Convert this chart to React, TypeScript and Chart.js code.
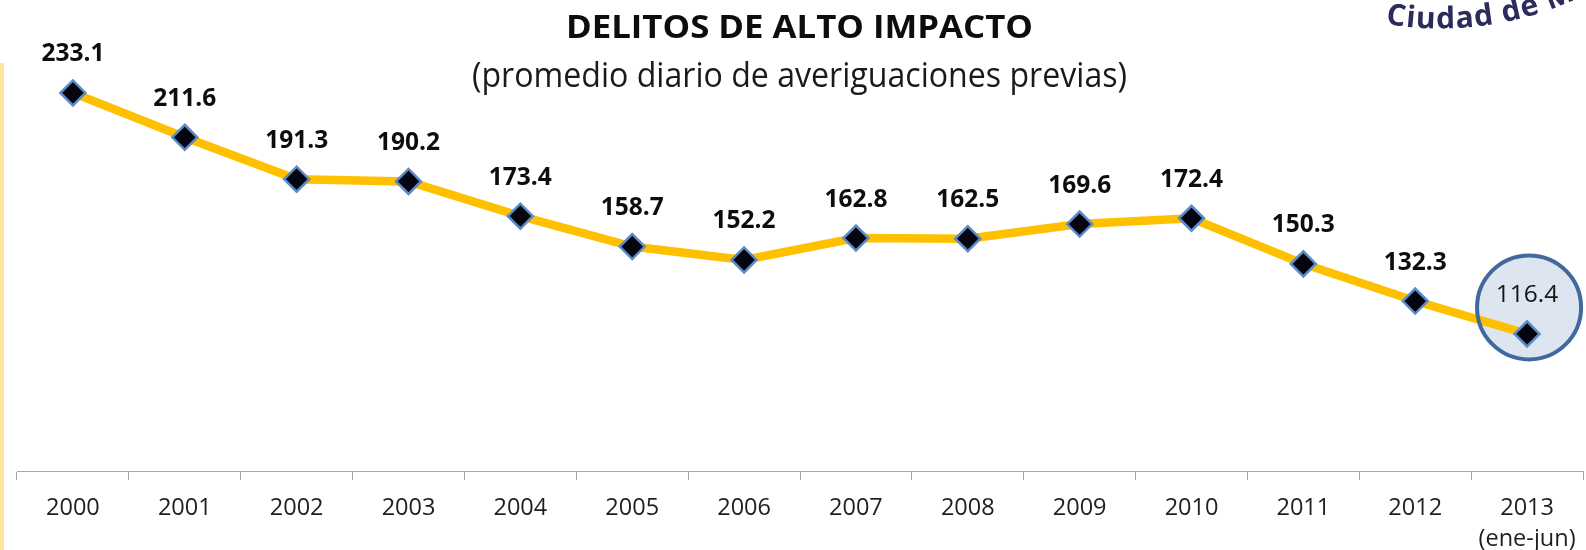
import React, { useEffect, useRef } from 'react';
import { Chart, registerables } from 'chart.js';

Chart.register(...registerables);

// ---- Data ----
const categories: string[] = ['2000', '2001', '2002', '2003', '2004', '2005', '2006', '2007', '2008', '2009', '2010', '2011', '2012', '2013'];
const tickLabels: (string | string[])[] = ['2000', '2001', '2002', '2003', '2004', '2005', '2006', '2007', '2008', '2009', '2010', '2011', '2012', ['2013', '(ene-jun)']];
const values: number[] = [233.1, 211.6, 191.3, 190.2, 173.4, 158.7, 152.2, 162.8, 162.5, 169.6, 172.4, 150.3, 132.3, 116.4];
const highlightCategory = '2013';
const yMin = 50;
const yMax = 250;

const titleText = 'DELITOS DE ALTO IMPACTO';
const subtitleText = '(promedio diario de averiguaciones previas)';
const logoText = 'Ciudad de México';

const FONT = '"Open Sans", "DejaVu Sans", sans-serif';

function fitText(ctx: CanvasRenderingContext2D, text: string, cx: number, baseline: number, font: string, targetW: number, color: string) {
  ctx.save();
  ctx.font = font;
  ctx.fillStyle = color;
  ctx.textAlign = 'center';
  ctx.textBaseline = 'alphabetic';
  const w = ctx.measureText(text).width;
  ctx.translate(cx, baseline);
  ctx.scale(targetW / w, 1);
  ctx.fillText(text, 0, 0);
  ctx.restore();
}

const decorPlugin = {
  id: 'decor',
  beforeDraw(chart: any) {
    const ctx = chart.ctx as CanvasRenderingContext2D;
    ctx.save();
    ctx.fillStyle = '#FFFFFF';
    ctx.fillRect(0, 0, chart.width, chart.height);
    ctx.fillStyle = '#FFE699';
    ctx.fillRect(0, 63, 4, chart.height - 63);
    ctx.restore();
  },
  beforeDatasetsDraw(chart: any) {
    const ctx = chart.ctx as CanvasRenderingContext2D;
    const idx = categories.indexOf(highlightCategory);
    const pt = chart.getDatasetMeta(1).data[idx];
    if (!pt) return;
    ctx.save();
    ctx.beginPath();
    ctx.arc(pt.x + 2, pt.y - 26.5, 52, 0, Math.PI * 2);
    ctx.fillStyle = '#DDE5F0';
    ctx.fill();
    ctx.restore();
  },
  afterDatasetDraw(chart: any, args: any) {
    if (args.index !== 0) return;
    const ctx = chart.ctx as CanvasRenderingContext2D;
    const idx = categories.indexOf(highlightCategory);
    const pt = chart.getDatasetMeta(1).data[idx];
    if (!pt) return;
    ctx.save();
    ctx.beginPath();
    ctx.arc(pt.x + 2, pt.y - 26.5, 52, 0, Math.PI * 2);
    ctx.lineWidth = 4;
    ctx.strokeStyle = '#41699D';
    ctx.stroke();
    ctx.restore();
  },
  afterDatasetsDraw(chart: any) {
    const ctx = chart.ctx as CanvasRenderingContext2D;
    const meta = chart.getDatasetMeta(1);
    ctx.save();
    ctx.textAlign = 'center';
    ctx.textBaseline = 'alphabetic';
    meta.data.forEach((p: any, i: number) => {
      const isHi = categories[i] === highlightCategory;
      ctx.font = (isHi ? '500 ' : 'bold ') + '24.5px ' + FONT;
      ctx.fillStyle = isHi ? '#141414' : '#0D0D0D';
      ctx.fillText(values[i].toFixed(1), p.x, p.y - 31.5);
    });
    ctx.restore();
  },
  afterDraw(chart: any) {
    const ctx = chart.ctx as CanvasRenderingContext2D;
    fitText(ctx, titleText, 799.5, 38, 'bold 33px ' + FONT, 467, '#0D0D0D');
    fitText(ctx, subtitleText, 799.5, 86.5, 'normal 34px ' + FONT, 655, '#1A1A1A');

    // curved logo text (top-right corner)
    ctx.save();
    ctx.font = 'bold 30px ' + FONT;
    ctx.fillStyle = '#2B2B5C';
    ctx.textAlign = 'center';
    ctx.textBaseline = 'alphabetic';
    const R = 330;
    const cx = 1440;
    const cy = -301.5;
    let phi = Math.asin((1385 - cx) / R);
    for (const ch of logoText) {
      const w = ctx.measureText(ch).width + 1;
      const mid = phi + w / 2 / R;
      ctx.save();
      ctx.translate(cx + R * Math.sin(mid), cy + R * Math.cos(mid));
      ctx.rotate(-mid);
      ctx.fillText(ch, 0, 0);
      ctx.restore();
      phi += w / R;
    }
    ctx.restore();
  },
};

export default function App() {
  const canvasRef = useRef<HTMLCanvasElement | null>(null);

  useEffect(() => {
    if (!canvasRef.current) return;
    const chart = new Chart(canvasRef.current, {
      type: 'line',
      data: {
        labels: tickLabels as any,
        datasets: [
          {
            label: 'linea',
            data: values,
            borderColor: '#FFC000',
            borderWidth: 8.5,
            pointRadius: 0,
            pointHoverRadius: 0,
            tension: 0,
            fill: false,
            clip: false as any,
            order: 2,
          },
          {
            label: 'puntos',
            data: values,
            showLine: false,
            pointStyle: 'rectRot',
            pointRadius: 12.5,
            pointHoverRadius: 12.5,
            pointBackgroundColor: '#05050F',
            pointBorderColor: '#5B8BC9',
            pointBorderWidth: 2.5,
            clip: false as any,
            order: 1,
          },
        ],
      },
      options: {
        responsive: false,
        animation: false,
        layout: { autoPadding: false, padding: { left: 17, right: 3, top: 58, bottom: 0 } },
        plugins: {
          legend: { display: false },
          tooltip: { enabled: false },
          title: { display: false },
        },
        scales: {
          x: {
            type: 'category',
            offset: true,
            grid: {
              display: true,
              drawOnChartArea: false,
              drawTicks: true,
              tickLength: 9,
              color: '#A6A6A6',
              offset: true,
            },
            border: { display: true, color: '#A6A6A6', width: 1 },
            ticks: {
              color: '#1F1F1F',
              font: { family: FONT, size: 23.5, lineHeight: 1.32 },
              padding: 13,
              maxRotation: 0,
              autoSkip: false,
            },
            afterFit: (s: any) => {
              s.height = 79;
              s.paddingLeft = 0;
              s.paddingRight = 0;
            },
          },
          y: {
            display: false,
            min: yMin,
            max: yMax,
          },
        },
      },
      plugins: [decorPlugin],
    });
    return () => chart.destroy();
  }, []);

  return (
    <div style={{ position: 'absolute', left: 0, top: 0, width: 1586, height: 550 }}>
      <canvas ref={canvasRef} width={1586} height={550} style={{ display: 'block', width: 1586, height: 550 }} />
    </div>
  );
}
